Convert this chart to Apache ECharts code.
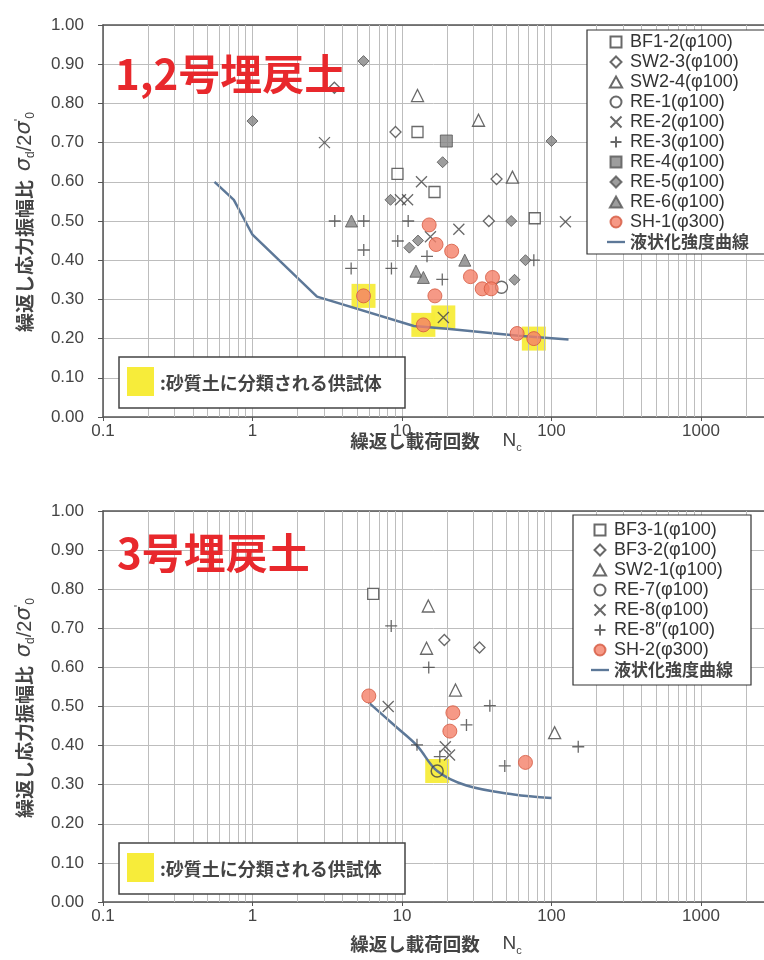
<!DOCTYPE html>
<html><head><meta charset="utf-8">
<script src="https://cdn.jsdelivr.net/npm/echarts@6/dist/echarts.min.js"></script>
<style>html,body{margin:0;padding:0;background:#fff}#c{width:764px;height:960px}</style>
</head><body><div id="c"></div>
<script>
// ---------- tick labels ----------
const xTicks = ['0.1', '1', '10', '100', '1000'];
const yTicks = ['0.00','0.10','0.20','0.30','0.40','0.50','0.60','0.70','0.80','0.90','1.00'];
const minorX = [0.2,0.3,0.4,0.5,0.6,0.7,0.8,0.9,2,3,4,5,6,7,8,9,20,30,40,50,60,70,80,90,200,300,400,500,600,700,800,900,2000];

// ---------- chart 1 : 1,2号埋戻土 ----------
const BF1_2 = [[12.7,0.727],[9.33,0.62],[16.5,0.574],[77.3,0.507]];
const SW2_3 = [[3.53,0.84],[9.05,0.727],[42.9,0.607],[38.1,0.50]];
const SW2_4 = [[12.7,0.82],[32.5,0.757],[54.8,0.612]];
const RE_1 = [[46.3,0.331]];
const RE_2 = [[3.03,0.70],[13.5,0.60],[9.77,0.554],[10.9,0.554],[24.0,0.479],[124,0.498],[15.5,0.46],[18.9,0.254]];
const RE_3 = [[3.55,0.50],[5.55,0.50],[11.0,0.50],[9.37,0.449],[5.55,0.426],[14.7,0.41],[4.57,0.379],[8.5,0.379],[18.6,0.351],[76.2,0.40]];
const RE_4 = [[19.8,0.704]];
const RE_5 = [[1.0,0.755],[5.53,0.908],[100,0.704],[18.7,0.65],[8.38,0.554],[53.8,0.50],[11.2,0.432],[12.8,0.45],[56.6,0.35],[67,0.40]];
const RE_6 = [[4.59,0.50],[26.3,0.40],[12.4,0.372],[13.9,0.356]];
const SH_1 = [[15.2,0.49],[16.9,0.44],[21.5,0.423],[28.7,0.358],[40.3,0.356],[34.4,0.327],[39.5,0.327],[5.53,0.309],[16.6,0.309],[13.9,0.235],[58.9,0.213],[76.2,0.20]];
const curve1 = [[0.557,0.60],[0.75,0.554],[1.0,0.465],[2.7,0.307],[12,0.232],[20,0.225],[60,0.207],[130,0.198]];
const sand1 = [[5.53,0.309],[13.9,0.235],[18.9,0.254],[76.2,0.20]];

// ---------- chart 2 : 3号埋戻土 ----------
const BF3_1 = [[6.42,0.788]];
const BF3_2 = [[19.2,0.67],[33.0,0.651]];
const SW2_1 = [[15.0,0.757],[14.6,0.649],[22.8,0.542],[105,0.433]];
const RE_7 = [[17.2,0.335]];
const RE_8 = [[8.09,0.50],[19.5,0.397],[20.8,0.376]];
const RE_8b = [[8.47,0.706],[15.1,0.60],[38.7,0.502],[27.0,0.453],[151,0.397],[12.6,0.402],[17.9,0.372],[48.7,0.348]];
const SH_2 = [[6.0,0.527],[21.9,0.484],[20.9,0.437],[67,0.357]];
const curve2 = [[6.0,0.51],[9,0.45],[12.6,0.40],[17.2,0.335],[27,0.298],[56,0.275],[100,0.266]];
const sand2 = [[17.2,0.335]];

const X_MAX = 2640; // visible right edge of the (cropped) log axis
const FONT = "'Liberation Sans','Noto Sans CJK JP',sans-serif";
const CJK = "'Noto Sans CJK JP',sans-serif";
const DARK = '#444';
const LINEC = '#5d7898';
const XPATH = 'path://M0,0L10,10M0,10L10,0';
const PPATH = 'path://M5,0L5,10M0,5L10,5';
const SQ = 'path://M0,0L10,0L10,10L0,10Z';
const DM = 'path://M5,0L10,5L5,10L0,5Z';
const TR = 'path://M5,0L10,9L0,9Z';
const LN = 'path://M0,0L20,0L20,2.6L0,2.6Z';

const openStyle = {color:'#fff', borderColor:DARK, borderWidth:1.3};
const strokeStyle = {color:'none', borderColor:DARK, borderWidth:1.3};
const grayStyle = {color:'#858585', borderColor:'#555', borderWidth:1};
const shStyle = {color:'#f47f68', borderColor:'#d4573f', borderWidth:1};

function sc(name, data, g, symbol, size, style, z){
  return {type:'scatter', name, data, xAxisIndex:g, yAxisIndex:g, symbol, symbolSize:size, itemStyle:style, z:z||5, silent:true};
}
function curve(data, g, smooth){
  return {type:'line', name:'液状化強度曲線', data, xAxisIndex:g, yAxisIndex:g, symbol:'none', smooth:smooth,
    lineStyle:{color:LINEC, width:2.5}, itemStyle:{color:LINEC}, z:4, silent:true};
}
function sand(data, g){
  return {type:'scatter', name:'sand'+g, data, xAxisIndex:g, yAxisIndex:g, symbol:'rect', symbolSize:24,
    itemStyle:{color:'#f7ec3a', opacity:0.95}, z:2, silent:true};
}
function minor(g){
  return {type:'line', name:'minor'+g, data:[], xAxisIndex:g, yAxisIndex:g, z:1, silent:true,
    markLine:{silent:true, symbol:['none','none'], label:{show:false}, animation:false,
      lineStyle:{color:'#bdbdbd', width:1, type:'solid'}, data:minorX.filter(v => v < X_MAX).map(v=>({xAxis:v}))}};
}

const xAxisBase = g => ({type:'log', logBase:10, gridIndex:g, min:0.1, max:X_MAX,
  axisLine:{show:true, onZero:false, lineStyle:{color:'#555', width:1.5}},
  axisTick:{show:true, length:4, lineStyle:{color:'#555'}},
  axisLabel:{color:DARK, fontSize:17, fontFamily:FONT, margin:6, showMaxLabel:false,
    formatter: v => { const s = xTicks.find(t => Math.abs(Math.log10(+t) - Math.log10(v)) < 1e-6); return s || ''; }},
  splitLine:{show:true, lineStyle:{color:'#bdbdbd', width:1}}});
const xAxisTop = g => ({type:'log', logBase:10, gridIndex:g, min:0.1, max:X_MAX, position:'top',
  axisLine:{show:true, onZero:false, lineStyle:{color:'#555', width:1.5}},
  axisTick:{show:false}, axisLabel:{show:false}, splitLine:{show:false}});
const yAxisBase = g => ({type:'value', gridIndex:g, min:0, max:1, interval:0.1,
  axisLine:{show:true, lineStyle:{color:'#555', width:1.5}},
  axisTick:{show:true, length:5, lineStyle:{color:'#555'}},
  axisLabel:{color:DARK, fontSize:17, fontFamily:FONT, margin:19, formatter: v => yTicks[Math.round(v*10)]},
  splitLine:{show:true, lineStyle:{color:'#bdbdbd', width:1}}});

const legendBase = {orient:'vertical', selectedMode:false, backgroundColor:'#fff', borderColor:'#333', borderWidth:1.2,
  borderRadius:0, itemWidth:18, itemHeight:11, itemGap:0, z:30,
  textStyle:{fontSize:18, lineHeight:20, color:'#333', fontFamily:FONT}};

const names1 = ['BF1-2(φ100)','SW2-3(φ100)','SW2-4(φ100)','RE-1(φ100)','RE-2(φ100)','RE-3(φ100)','RE-4(φ100)','RE-5(φ100)','RE-6(φ100)','SH-1(φ300)'];
const icons1 = [SQ, DM, TR, 'circle', XPATH, PPATH, SQ, DM, TR, 'circle'];
const names2 = ['BF3-1(φ100)','BF3-2(φ100)','SW2-1(φ100)','RE-7(φ100)','RE-8(φ100)','RE-8″(φ100)','SH-2(φ300)'];
const icons2 = [SQ, DM, TR, 'circle', XPATH, PPATH, 'circle'];
const lineLegend = {name:'液状化強度曲線', icon:LN, textStyle:{fontWeight:'bold', fontFamily:CJK, color:'#444', fontSize:17}};

function yName(cx, cy){
  return {type:'text', x:cx, y:cy, rotation:Math.PI/2, z:40, style:{
    text:'{j|繰返し応力振幅比  }{s|σ}{sub|d}{n|/2}{s|σ}{sup|\'}{sub|0}',
    align:'center', verticalAlign:'middle',
    rich:{
      j:{fontSize:19, fontWeight:'bold', fontFamily:CJK, fill:'#444', lineHeight:24},
      s:{fontSize:21, fontStyle:'italic', fontFamily:"'DejaVu Sans',sans-serif", fill:'#444', lineHeight:24},
      n:{fontSize:20, fontFamily:FONT, fill:'#444', lineHeight:24},
      sub:{fontSize:12, fontFamily:FONT, fill:'#444', verticalAlign:'bottom', lineHeight:24},
      sup:{fontSize:13, fontFamily:FONT, fill:'#444', verticalAlign:'top', lineHeight:24}
    }}};
}
function xName(cx, cy){
  return {type:'text', x:cx, y:cy, z:40, style:{
    text:'{j|繰返し載荷回数　 }{n|N}{sub|c}', align:'center', verticalAlign:'middle',
    rich:{
      j:{fontSize:18.5, fontWeight:'bold', fontFamily:CJK, fill:'#444', lineHeight:24},
      n:{fontSize:19, fontFamily:FONT, fill:'#444', lineHeight:24},
      sub:{fontSize:11, fontFamily:FONT, fill:'#444', verticalAlign:'bottom', lineHeight:22}
    }}};
}
function sandNote(top){
  return {type:'group', z:40, children:[
    {type:'rect', shape:{x:119, y:top, width:286, height:51}, style:{fill:'#fff', stroke:'#444', lineWidth:1.5}, z:50},
    {type:'rect', shape:{x:127, y:top+10, width:27, height:29}, style:{fill:'#f7ec3a'}, z:51},
    {type:'text', x:160, y:top+26, style:{text:':砂質土に分類される供試体', font:"bold 18px 'Noto Sans CJK JP'", fill:'#444', verticalAlign:'middle'}, z:51}
  ]};
}

const option = {
  animation:false,
  backgroundColor:'#fff',
  textStyle:{fontFamily:FONT},
  grid:[
    {left:103, top:25, right:0, height:392, show:false},
    {left:103, top:511, right:0, height:391, show:false}
  ],
  xAxis:[xAxisBase(0), xAxisBase(1), xAxisTop(0), xAxisTop(1)],
  yAxis:[yAxisBase(0), yAxisBase(1)],
  legend:[
    Object.assign({}, legendBase, {left:587, top:30, padding:[2,22,2,20],
      data:[...names1.map((n,i)=>({name:n, icon:icons1[i]})), lineLegend]}),
    Object.assign({}, legendBase, {left:573, top:515, padding:[5,18,5,18],
      data:[...names2.map((n,i)=>({name:n, icon:icons2[i]})), lineLegend]})
  ],
  title:[
    {text:'1,2号埋戻土', left:110, top:48, z:30, textStyle:{fontSize:42, fontWeight:'bold', color:'#e8282c', fontFamily:CJK}},
    {text:'3号埋戻土', left:112, top:527, z:30, textStyle:{fontSize:42, fontWeight:'bold', color:'#e8282c', fontFamily:CJK}}
  ],
  graphic:[yName(25, 222), yName(25, 708), xName(436, 441), xName(436, 944), sandNote(357), sandNote(843)],
  series:[
    minor(0), minor(1),
    sand(sand1, 0), sand(sand2, 1),
    curve(curve1, 0, false),
    sc(names1[0], BF1_2, 0, 'rect', 11, openStyle),
    sc(names1[1], SW2_3, 0, 'diamond', 11, openStyle),
    sc(names1[2], SW2_4, 0, 'triangle', 12, openStyle),
    sc(names1[3], RE_1, 0, 'circle', 12, openStyle),
    sc(names1[4], RE_2, 0, XPATH, 11, strokeStyle),
    sc(names1[5], RE_3, 0, PPATH, 12, strokeStyle),
    sc(names1[6], RE_4, 0, 'rect', 12, grayStyle),
    sc(names1[7], RE_5, 0, 'diamond', 11, grayStyle),
    sc(names1[8], RE_6, 0, 'triangle', 12, grayStyle),
    sc(names1[9], SH_1, 0, 'circle', 14, shStyle, 6),
    curve(curve2, 1, 0.35),
    sc(names2[0], BF3_1, 1, 'rect', 11, openStyle),
    sc(names2[1], BF3_2, 1, 'diamond', 11, openStyle),
    sc(names2[2], SW2_1, 1, 'triangle', 12, openStyle),
    sc(names2[3], RE_7, 1, 'circle', 12, {color:'none', borderColor:DARK, borderWidth:1.5}),
    sc(names2[4], RE_8, 1, XPATH, 11, strokeStyle),
    sc(names2[5], RE_8b, 1, PPATH, 12, strokeStyle),
    sc(names2[6], SH_2, 1, 'circle', 14, shStyle, 6)
  ]
};
const chart = echarts.init(document.getElementById('c'), null, {renderer:'canvas'});
chart.setOption(option);
</script></body></html>
